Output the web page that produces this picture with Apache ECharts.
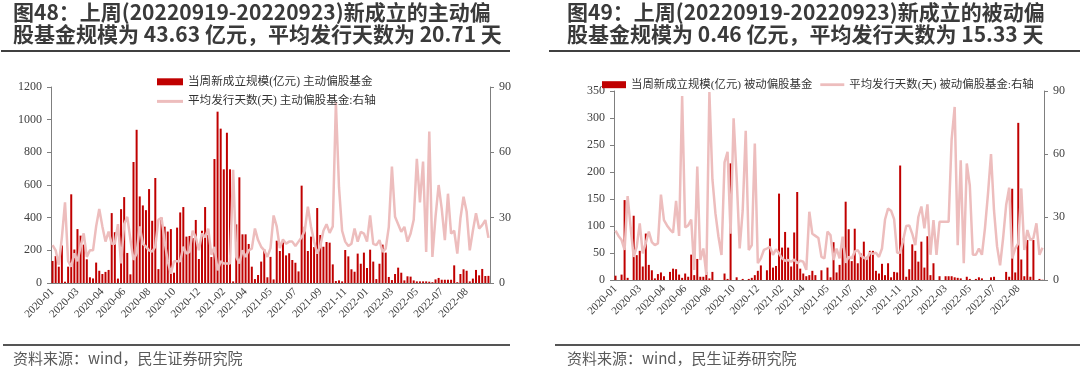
<!DOCTYPE html>
<html><head><meta charset="utf-8">
<script src="https://cdn.jsdelivr.net/npm/echarts@6.0.0/dist/echarts.min.js"></script>
<style>html,body{margin:0;padding:0;background:#fff}#c{width:1080px;height:374px}</style>
</head><body><div id="c"></div>
<script>
// ---------- data ----------
const tickLabels = ['2020-01','2020-03','2020-04','2020-06','2020-08','2020-10','2020-12','2021-02','2021-04','2021-05','2021-07','2021-09','2021-11','2022-01','2022-03','2022-05','2022-07','2022-08'];
const tickIndex = [0,8,16,23,31,39,47,55,62,70,78,86,94,101,109,117,125,133];

// 主动偏股基金 当周新成立规模(亿元)
const activeScale = [
 135,165,100,230,8,100,543,205,330,290,235,145,35,28,125,75,55,68,80,428,311,27,452,526,184,53,741,938,530,475,446,575,381,643,85,
 400,345,315,330,63,339,432,465,284,288,275,386,147,320,465,294,159,759,1049,945,696,920,696,10,359,647,298,298,239,100,24,49,131,206,35,
 160,22,259,196,249,169,182,141,124,71,596,345,196,284,220,459,294,222,251,247,114,12,16,10,202,163,84,69,180,118,186,92,204,131,24,118,
 235,186,37,18,55,94,63,16,41,39,16,10,10,10,10,8,5,22,31,20,20,20,20,108,5,55,84,75,10,27,80,47,86,43,43.63
];
// 主动偏股基金 平均发行天数(天)
const activeDays = [
 17.4,15,8.3,21,37,10,7.5,13.6,10,16.7,22.8,12,15,15,26,34,26,19,23.6,18,18,27,9,27,30.4,20,10.6,13.6,26,18,16.7,15,14.4,16.7,29,
 30,19,10,4.3,10,10,10,16.6,13.5,14.3,24,21,15,22.7,21,25,13,16.6,5.8,10,9,9,9,52,12,9,15,12,15,15.8,25,19.7,16.6,15,12,
 16,31,26,16,20,18,19,19,17,19,21,24,35,26,19,13.5,17,24,27,23,26,83,44,24,19,17,18,25,19,23.5,22.7,19,31,18,17.4,
 19.7,14.3,15.8,25.8,53.5,30.4,27,23.5,25.8,19,22.7,29,57,37,55.8,14.3,69.6,12,30.4,45,34,19.7,41,22.7,24,13.5,29.6,39.6,32.7,15,24,32,25,26.6,28.9,20.71
];
// 被动偏股基金 当周新成立规模(亿元)
const passiveScale = [
 8,0,10,148,4,0,119,46,54,25,86,28,18,3,11,14,7,0,15,21,20,10,4,12,6,47,9,39,6,6,15,3,15,0,0,0,12,2,216,0,5,0,2,0,2,4,9,17,27,0,18,77,23,26,160,60,89,60,25,88,163,21,12,7,
 9,17,9,0,18,0,23,5,70,14,28,60,145,94,35,95,31,49,71,43,54,54,17,12,30,9,31,5,15,14,212,77,6,20,66,54,34,71,23,81,9,31,0,7,0,7,7,7,5,4,3,0,6,2,0,2,5,3,0,0,5,6,0,0,0,15,6,169,14,291,38,7,74,6,74,
 0,2,0.46
];
// 被动偏股基金 平均发行天数(天)
const passiveDays = [
 23.5,21,19,14.3,40,25,11,15.8,27,12.7,17.7,23,18,16.6,17.4,40.7,28.5,26,24,22.5,37.7,21,87.6,25,26,28.8,4.8,54,9.5,15,2.4,89.5,48,31.7,20.6,11.9,56,61,22,77,49,15,33,71,14.3,16.6,65,8,10.3,14.3,15,
 15.8,12,14.6,12.7,10.3,9.2,9.5,8.7,9.8,8,9.2,8.7,4.8,
 32.5,22,21,20,11,10.3,23,21.4,9.5,15,10.3,20.6,8.2,11,10.3,13.5,14.3,11.6,10.6,10,13,12.4,13,11,15,28.8,34,33,29,13,13,19,25.7,26,22,16.6,30,35,24.6,36,12,28.5,12,27.7,27.7,27.7,27.7,67,82.4,16.6,57,8,55.5,45,12,12,15,12,24.6,41,60,33,16,7,20,35.7,44,10.3,15,17.4,43.6,14.3,23.8,19,20,27,12,15.33
];

const nameA1 = '当周新成立规模(亿元) 主动偏股基金';
const nameA2 = '平均发行天数(天) 主动偏股基金:右轴';
const nameP1 = '当周新成立规模(亿元) 被动偏股基金';
const nameP2 = '平均发行天数(天) 被动偏股基金:右轴';

function weeks(n){ const out=[]; const d0=new Date(Date.UTC(2020,0,3)); for(let i=0;i<n;i++){const d=new Date(d0.getTime()+i*7*86400000); out.push(d.toISOString().slice(0,10));} return out; }
const catsA = weeks(activeScale.length);
const catsP = weeks(passiveScale.length);

// ---------- styling ----------
const serif = "'Liberation Serif','Times New Roman','Noto Sans CJK SC',serif";
const axisGray = '#7f7f7f';
const txt = '#404040';
const barColor = '#C00000';
const lineColor = '#EDBDBD';
const lineIcon = 'path://M0,0 L26,0 L26,3 L0,3 Z';

function xAx(gi, cats){
  return {type:'category', gridIndex:gi, data:cats, boundaryGap:true,
    axisLine:{show:true, lineStyle:{color:axisGray, width:1}},
    axisTick:{show:false},
    axisLabel:{rotate:45, fontFamily:serif, fontSize:11, color:txt, margin:7,
      interval:(i)=>tickIndex.indexOf(i)>=0,
      formatter:(v,i)=>{const k=tickIndex.indexOf(i); return k>=0?tickLabels[k]:'';}}
  };
}
function yAx(gi, pos, max, interval){
  return {type:'value', gridIndex:gi, position:pos, min:0, max:max, interval:interval,
    splitLine:{show:false},
    axisLine:{show:true, lineStyle:{color:axisGray, width:1}},
    axisTick:{show:true, inside:false, length:4, lineStyle:{color:axisGray}},
    axisLabel:{fontFamily:serif, fontSize:12, color:txt, margin:9, formatter:(v)=>String(v)}
  };
}

const option = {
  animation:false,
  backgroundColor:'#fff',
  grid:[
    {left:51, top:87, width:439, height:196},
    {left:614, top:91, width:430, height:189}
  ],
  xAxis:[xAx(0,catsA), xAx(1,catsP)],
  yAxis:[yAx(0,'left',1200,200), yAx(0,'right',90,30), yAx(1,'left',350,50), yAx(1,'right',90,30)],
  legend:[
    {data:[{name:nameA1, icon:'rect'}, {name:nameA2, icon:lineIcon}], orient:'vertical', left:152, top:71,
     itemWidth:26, itemHeight:7, itemGap:8,
     textStyle:{fontFamily:serif, fontSize:11.6, color:'#333'}},
    {data:[{name:nameP1, icon:'rect'}, {name:nameP2, icon:lineIcon}], orient:'horizontal', left:597, top:74,
     itemWidth:24, itemHeight:7, itemGap:8,
     textStyle:{fontFamily:serif, fontSize:11.4, color:'#333'}}
  ],
  series:[
    {name:nameA1, type:'bar', xAxisIndex:0, yAxisIndex:0, data:activeScale, barWidth:2, itemStyle:{color:barColor}, z:2},
    {name:nameA2, type:'line', xAxisIndex:0, yAxisIndex:1, data:activeDays, symbol:'none', showSymbol:false,
     lineStyle:{color:lineColor, width:2.5}, itemStyle:{color:lineColor}, z:3},
    {name:nameP1, type:'bar', xAxisIndex:1, yAxisIndex:2, data:passiveScale, barWidth:2, itemStyle:{color:barColor}, z:2},
    {name:nameP2, type:'line', xAxisIndex:1, yAxisIndex:3, data:passiveDays, symbol:'none', showSymbol:false,
     lineStyle:{color:lineColor, width:2.5}, itemStyle:{color:lineColor}, z:3}
  ],
  graphic:[
    {type:'text', left:13, top:2, style:{text:'图48：上周(20220919-20220923)新成立的主动偏', font:"bold 21px 'Noto Sans CJK SC'", fill:'#3a3a3a'}},
    {type:'text', left:13, top:24, style:{text:'股基金规模为 43.63 亿元，平均发行天数为 20.71 天', font:"bold 21px 'Noto Sans CJK SC'", fill:'#3a3a3a'}},
    {type:'rect', shape:{x:1, y:50, width:509, height:2}, style:{fill:'#404040'}},
    {type:'text', left:567, top:2, style:{text:'图49：上周(20220919-20220923)新成立的被动偏', font:"bold 21px 'Noto Sans CJK SC'", fill:'#3a3a3a'}},
    {type:'text', left:567, top:24, style:{text:'股基金规模为 0.46 亿元，平均发行天数为 15.33 天', font:"bold 21px 'Noto Sans CJK SC'", fill:'#3a3a3a'}},
    {type:'rect', shape:{x:549, y:50, width:531, height:2}, style:{fill:'#404040'}},
    {type:'rect', shape:{x:3, y:344, width:507, height:2}, style:{fill:'#555'}},
    {type:'rect', shape:{x:555, y:344, width:525, height:2}, style:{fill:'#555'}},
    {type:'text', left:13, top:351, style:{text:'资料来源：wind，民生证券研究院', font:"15px 'Noto Sans CJK SC'", fill:'#595959'}},
    {type:'text', left:567, top:351, style:{text:'资料来源：wind，民生证券研究院', font:"15px 'Noto Sans CJK SC'", fill:'#595959'}}
  ]
};
const chart = echarts.init(document.getElementById('c'), null, {renderer:'canvas', width:1080, height:374});
chart.setOption(option);
</script></body></html>
